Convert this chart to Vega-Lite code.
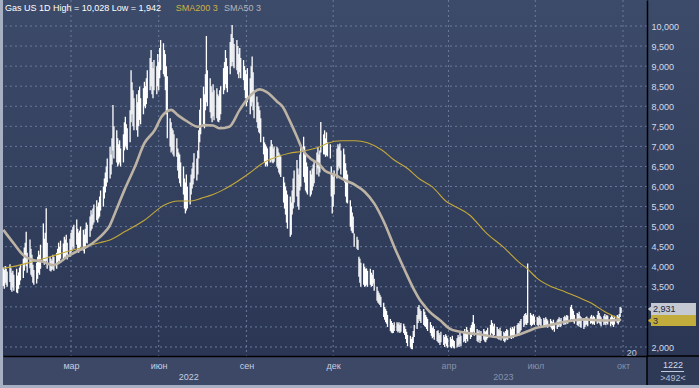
{
"$schema":"https://vega.github.io/schema/vega-lite/v6.json",
"width":644,"height":356,
"autosize":{"type":"none"},
"padding":{"left":3,"top":0,"right":52,"bottom":32},
"background":"#a7b0c2",
"config":{"view":{"stroke":null},"font":"Liberation Sans","axis":{"labelOverlap":false,"labelBound":false,"labelFlush":false,"labelSeparation":0},"axisY":{"tickCount":18}},
"datasets":{
"ohlc":[
{"d":"2021-12-20","h":3.98,"l":3.52},{"d":"2021-12-21","h":3.92,"l":3.45},{"d":"2021-12-22","h":4.02,"l":3.6},{"d":"2021-12-23","h":3.95,"l":3.55},{"d":"2021-12-24","h":3.88,"l":3.5},
{"d":"2021-12-27","h":4.06,"l":3.62},{"d":"2021-12-28","h":3.96,"l":3.42},{"d":"2021-12-29","h":3.85,"l":3.38},{"d":"2021-12-30","h":3.9,"l":3.48},{"d":"2021-12-31","h":3.8,"l":3.4},
{"d":"2022-01-03","h":3.95,"l":3.36},{"d":"2022-01-04","h":3.78,"l":3.34},{"d":"2022-01-05","h":3.86,"l":3.45},{"d":"2022-01-06","h":3.98,"l":3.55},{"d":"2022-01-07","h":4.05,"l":3.66},
{"d":"2022-01-10","h":4.2,"l":3.72},{"d":"2022-01-11","h":4.48,"l":3.9},{"d":"2022-01-12","h":4.6,"l":4.1},{"d":"2022-01-13","h":4.87,"l":4.02},{"d":"2022-01-14","h":4.35,"l":3.85},
{"d":"2022-01-17","h":4.68,"l":3.96},{"d":"2022-01-18","h":4.45,"l":3.8},{"d":"2022-01-19","h":4.3,"l":3.75},{"d":"2022-01-20","h":4.05,"l":3.6},{"d":"2022-01-21","h":3.92,"l":3.55},
{"d":"2022-01-24","h":4.1,"l":3.58},{"d":"2022-01-25","h":4.25,"l":3.7},{"d":"2022-01-26","h":4.4,"l":3.85},{"d":"2022-01-27","h":4.3,"l":3.8},{"d":"2022-01-28","h":4.55,"l":3.95},
{"d":"2022-01-31","h":5.08,"l":4.1},{"d":"2022-02-01","h":4.7,"l":4.05},{"d":"2022-02-02","h":4.85,"l":4.1},{"d":"2022-02-03","h":5.46,"l":4.15},{"d":"2022-02-04","h":4.6,"l":3.95},
{"d":"2022-02-07","h":4.25,"l":3.9},{"d":"2022-02-08","h":4.2,"l":3.88},{"d":"2022-02-09","h":4.15,"l":3.92},{"d":"2022-02-10","h":4.3,"l":3.95},{"d":"2022-02-11","h":4.25,"l":3.9},
{"d":"2022-02-14","h":4.35,"l":3.95},{"d":"2022-02-15","h":4.45,"l":4.08},{"d":"2022-02-16","h":4.6,"l":4.15},{"d":"2022-02-17","h":4.5,"l":4.1},{"d":"2022-02-18","h":4.65,"l":4.2},
{"d":"2022-02-21","h":4.58,"l":4.15},{"d":"2022-02-22","h":4.75,"l":4.25},{"d":"2022-02-23","h":4.68,"l":4.2},{"d":"2022-02-24","h":4.8,"l":4.3},{"d":"2022-02-25","h":4.6,"l":4.18},
{"d":"2022-02-28","h":4.7,"l":4.25},{"d":"2022-03-01","h":4.85,"l":4.35},{"d":"2022-03-02","h":4.92,"l":4.4},{"d":"2022-03-03","h":5.0,"l":4.5},{"d":"2022-03-04","h":5.05,"l":4.45},
{"d":"2022-03-07","h":5.18,"l":4.55},{"d":"2022-03-08","h":4.95,"l":4.4},{"d":"2022-03-09","h":4.85,"l":4.35},{"d":"2022-03-10","h":4.9,"l":4.45},{"d":"2022-03-11","h":5.0,"l":4.5},
{"d":"2022-03-14","h":4.92,"l":4.4},{"d":"2022-03-15","h":4.8,"l":4.33},{"d":"2022-03-16","h":4.95,"l":4.45},{"d":"2022-03-17","h":5.1,"l":4.6},{"d":"2022-03-18","h":5.05,"l":4.58},
{"d":"2022-03-21","h":5.25,"l":4.75},{"d":"2022-03-22","h":5.41,"l":4.9},{"d":"2022-03-23","h":5.3,"l":4.95},{"d":"2022-03-24","h":5.45,"l":5.05},{"d":"2022-03-25","h":5.55,"l":5.1},
{"d":"2022-03-28","h":5.66,"l":5.16},{"d":"2022-03-29","h":5.5,"l":5.1},{"d":"2022-03-30","h":5.6,"l":5.2},{"d":"2022-03-31","h":5.75,"l":5.25},{"d":"2022-04-01","h":5.9,"l":5.4},
{"d":"2022-04-04","h":6.0,"l":5.5},{"d":"2022-04-05","h":6.2,"l":5.7},{"d":"2022-04-06","h":6.35,"l":5.85},{"d":"2022-04-07","h":6.5,"l":6.0},{"d":"2022-04-08","h":6.7,"l":6.1},
{"d":"2022-04-11","h":6.99,"l":6.2},{"d":"2022-04-12","h":6.8,"l":6.3},{"d":"2022-04-13","h":7.2,"l":6.55},{"d":"2022-04-14","h":8.03,"l":6.9},{"d":"2022-04-15","h":7.5,"l":6.7},
{"d":"2022-04-18","h":7.4,"l":6.6},{"d":"2022-04-19","h":7.2,"l":6.5},{"d":"2022-04-20","h":7.05,"l":6.55},{"d":"2022-04-21","h":7.15,"l":6.6},{"d":"2022-04-22","h":6.95,"l":6.5},
{"d":"2022-04-25","h":7.3,"l":6.6},{"d":"2022-04-26","h":7.6,"l":6.9},{"d":"2022-04-27","h":7.74,"l":7.0},{"d":"2022-04-28","h":7.55,"l":6.95},{"d":"2022-04-29","h":7.45,"l":6.91},
{"d":"2022-05-02","h":7.9,"l":7.1},{"d":"2022-05-03","h":8.9,"l":7.6},{"d":"2022-05-04","h":8.6,"l":7.8},{"d":"2022-05-05","h":8.4,"l":7.5},{"d":"2022-05-06","h":8.2,"l":7.4},
{"d":"2022-05-09","h":8.3,"l":7.4},{"d":"2022-05-10","h":8.1,"l":7.24},{"d":"2022-05-11","h":8.4,"l":7.5},{"d":"2022-05-12","h":8.49,"l":7.66},{"d":"2022-05-13","h":8.2,"l":7.55},
{"d":"2022-05-16","h":8.45,"l":7.8},{"d":"2022-05-17","h":8.61,"l":8.0},{"d":"2022-05-18","h":8.5,"l":7.95},{"d":"2022-05-19","h":8.7,"l":8.05},{"d":"2022-05-20","h":8.9,"l":8.2},
{"d":"2022-05-23","h":9.2,"l":8.4},{"d":"2022-05-24","h":9.4,"l":8.5},{"d":"2022-05-25","h":9.1,"l":8.3},{"d":"2022-05-26","h":8.95,"l":8.2},{"d":"2022-05-27","h":9.15,"l":8.4},
{"d":"2022-05-30","h":9.0,"l":8.3},{"d":"2022-05-31","h":9.3,"l":8.5},{"d":"2022-06-01","h":9.1,"l":8.4},{"d":"2022-06-02","h":9.45,"l":8.7},{"d":"2022-06-03","h":9.65,"l":8.9},
{"d":"2022-06-06","h":9.57,"l":8.8},{"d":"2022-06-07","h":9.4,"l":8.74},{"d":"2022-06-08","h":9.3,"l":8.4},{"d":"2022-06-09","h":9.0,"l":7.8},{"d":"2022-06-10","h":8.75,"l":7.2},
{"d":"2022-06-13","h":7.7,"l":6.99},{"d":"2022-06-14","h":7.6,"l":6.85},{"d":"2022-06-15","h":7.45,"l":6.9},{"d":"2022-06-16","h":7.4,"l":6.8},{"d":"2022-06-17","h":7.3,"l":6.75},
{"d":"2022-06-20","h":7.2,"l":6.74},{"d":"2022-06-21","h":6.95,"l":6.4},{"d":"2022-06-22","h":6.85,"l":6.2},{"d":"2022-06-23","h":6.8,"l":6.08},{"d":"2022-06-24","h":6.6,"l":6.0},
{"d":"2022-06-27","h":6.5,"l":5.8},{"d":"2022-06-28","h":6.2,"l":5.45},{"d":"2022-06-29","h":6.1,"l":5.33},{"d":"2022-06-30","h":6.3,"l":5.4},{"d":"2022-07-01","h":6.0,"l":5.45},
{"d":"2022-07-04","h":6.1,"l":5.55},{"d":"2022-07-05","h":6.3,"l":5.8},{"d":"2022-07-06","h":6.45,"l":5.95},{"d":"2022-07-07","h":6.6,"l":6.05},{"d":"2022-07-08","h":6.83,"l":6.2},
{"d":"2022-07-11","h":6.7,"l":6.15},{"d":"2022-07-12","h":6.9,"l":6.3},{"d":"2022-07-13","h":7.4,"l":6.7},{"d":"2022-07-14","h":7.91,"l":7.1},{"d":"2022-07-15","h":8.2,"l":7.3},
{"d":"2022-07-18","h":8.49,"l":7.5},{"d":"2022-07-19","h":8.3,"l":7.45},{"d":"2022-07-20","h":8.8,"l":7.9},{"d":"2022-07-21","h":9.75,"l":8.1},{"d":"2022-07-22","h":8.9,"l":8.0},
{"d":"2022-07-25","h":8.7,"l":7.85},{"d":"2022-07-26","h":8.5,"l":7.7},{"d":"2022-07-27","h":8.35,"l":7.6},{"d":"2022-07-28","h":8.55,"l":7.75},{"d":"2022-07-29","h":8.4,"l":7.65},
{"d":"2022-08-01","h":8.45,"l":7.7},{"d":"2022-08-02","h":8.3,"l":7.62},{"d":"2022-08-03","h":8.25,"l":7.6},{"d":"2022-08-04","h":8.4,"l":7.66},{"d":"2022-08-05","h":8.5,"l":7.8},
{"d":"2022-08-08","h":8.95,"l":8.3},{"d":"2022-08-09","h":9.1,"l":8.4},{"d":"2022-08-10","h":9.4,"l":8.55},{"d":"2022-08-11","h":9.2,"l":8.45},{"d":"2022-08-12","h":9.0,"l":8.35},
{"d":"2022-08-15","h":9.6,"l":8.8},{"d":"2022-08-16","h":9.8,"l":9.0},{"d":"2022-08-17","h":10.028,"l":9.1},{"d":"2022-08-18","h":9.7,"l":9.0},{"d":"2022-08-19","h":9.55,"l":8.95},
{"d":"2022-08-22","h":9.65,"l":8.9},{"d":"2022-08-23","h":9.5,"l":8.8},{"d":"2022-08-24","h":9.3,"l":8.7},{"d":"2022-08-25","h":9.45,"l":8.85},{"d":"2022-08-26","h":9.2,"l":8.7},
{"d":"2022-08-29","h":9.15,"l":8.65},{"d":"2022-08-30","h":9.0,"l":8.4},{"d":"2022-08-31","h":8.9,"l":8.2},{"d":"2022-09-01","h":8.8,"l":8.0},{"d":"2022-09-02","h":8.95,"l":8.1},
{"d":"2022-09-05","h":8.7,"l":7.8},{"d":"2022-09-06","h":9.0,"l":8.0},{"d":"2022-09-07","h":9.24,"l":8.1},{"d":"2022-09-08","h":8.85,"l":7.9},{"d":"2022-09-09","h":8.4,"l":7.7},
{"d":"2022-09-12","h":8.24,"l":7.6},{"d":"2022-09-13","h":8.1,"l":7.45},{"d":"2022-09-14","h":8.0,"l":7.35},{"d":"2022-09-15","h":7.9,"l":7.32},{"d":"2022-09-16","h":7.7,"l":7.1},
{"d":"2022-09-19","h":7.24,"l":6.8},{"d":"2022-09-20","h":7.1,"l":6.6},{"d":"2022-09-21","h":7.05,"l":6.5},{"d":"2022-09-22","h":7.0,"l":6.55},{"d":"2022-09-23","h":6.95,"l":6.5},
{"d":"2022-09-26","h":7.0,"l":6.6},{"d":"2022-09-27","h":7.16,"l":6.65},{"d":"2022-09-28","h":7.05,"l":6.6},{"d":"2022-09-29","h":6.95,"l":6.58},{"d":"2022-09-30","h":7.0,"l":6.62},
{"d":"2022-10-03","h":6.99,"l":6.5},{"d":"2022-10-04","h":6.95,"l":6.45},{"d":"2022-10-05","h":6.85,"l":6.35},{"d":"2022-10-06","h":6.8,"l":6.3},{"d":"2022-10-07","h":6.75,"l":6.24},
{"d":"2022-10-10","h":6.24,"l":5.6},{"d":"2022-10-11","h":6.1,"l":5.45},{"d":"2022-10-12","h":6.0,"l":5.3},{"d":"2022-10-13","h":5.9,"l":5.1},{"d":"2022-10-14","h":5.8,"l":4.95},
{"d":"2022-10-17","h":5.75,"l":4.75},{"d":"2022-10-18","h":5.6,"l":4.8},{"d":"2022-10-19","h":5.9,"l":5.3},{"d":"2022-10-20","h":6.2,"l":5.45},{"d":"2022-10-21","h":6.4,"l":5.6},
{"d":"2022-10-24","h":6.66,"l":5.75},{"d":"2022-10-25","h":6.45,"l":5.5},{"d":"2022-10-26","h":6.3,"l":5.42},{"d":"2022-10-27","h":6.8,"l":5.9},{"d":"2022-10-28","h":7.0,"l":6.0},
{"d":"2022-10-31","h":7.24,"l":6.24},{"d":"2022-11-01","h":7.0,"l":6.1},{"d":"2022-11-02","h":6.8,"l":5.9},{"d":"2022-11-03","h":6.6,"l":5.85},{"d":"2022-11-04","h":6.5,"l":5.8},
{"d":"2022-11-07","h":6.4,"l":5.75},{"d":"2022-11-08","h":6.3,"l":5.8},{"d":"2022-11-09","h":6.45,"l":5.9},{"d":"2022-11-10","h":6.55,"l":6.0},{"d":"2022-11-11","h":6.66,"l":6.08},
{"d":"2022-11-14","h":6.85,"l":6.3},{"d":"2022-11-15","h":6.99,"l":6.45},{"d":"2022-11-16","h":6.8,"l":6.25},{"d":"2022-11-17","h":6.9,"l":6.35},{"d":"2022-11-18","h":7.61,"l":6.85},
{"d":"2022-11-21","h":7.3,"l":6.8},{"d":"2022-11-22","h":7.4,"l":6.8},{"d":"2022-11-23","h":7.2,"l":6.74},{"d":"2022-11-24","h":7.35,"l":6.78},{"d":"2022-11-25","h":7.1,"l":6.75},
{"d":"2022-11-28","h":7.05,"l":6.7},{"d":"2022-11-29","h":6.5,"l":5.75},{"d":"2022-11-30","h":6.3,"l":5.33},{"d":"2022-12-01","h":6.24,"l":5.5},{"d":"2022-12-02","h":6.4,"l":5.8},
{"d":"2022-12-05","h":6.95,"l":6.2},{"d":"2022-12-06","h":7.05,"l":6.4},{"d":"2022-12-07","h":7.0,"l":6.5},{"d":"2022-12-08","h":7.07,"l":6.45},{"d":"2022-12-09","h":6.9,"l":6.3},
{"d":"2022-12-12","h":6.95,"l":6.16},{"d":"2022-12-13","h":6.8,"l":6.1},{"d":"2022-12-14","h":6.58,"l":5.75},{"d":"2022-12-15","h":6.4,"l":5.6},{"d":"2022-12-16","h":6.3,"l":5.58},
{"d":"2022-12-19","h":5.66,"l":5.0},{"d":"2022-12-20","h":5.5,"l":4.9},{"d":"2022-12-21","h":5.35,"l":4.85},{"d":"2022-12-22","h":5.25,"l":4.83},{"d":"2022-12-23","h":4.83,"l":4.5},
{"d":"2022-12-26","h":4.75,"l":4.45},{"d":"2022-12-27","h":4.67,"l":4.42},{"d":"2022-12-28","h":4.25,"l":3.75},{"d":"2022-12-29","h":4.2,"l":3.6},{"d":"2022-12-30","h":4.1,"l":3.5},
{"d":"2023-01-02","h":4.08,"l":3.55},{"d":"2023-01-03","h":4.0,"l":3.5},{"d":"2023-01-04","h":3.95,"l":3.52},{"d":"2023-01-05","h":3.96,"l":3.55},{"d":"2023-01-06","h":3.9,"l":3.5},
{"d":"2023-01-09","h":3.95,"l":3.55},{"d":"2023-01-10","h":3.85,"l":3.5},{"d":"2023-01-11","h":3.8,"l":3.52},{"d":"2023-01-12","h":3.92,"l":3.58},{"d":"2023-01-13","h":3.7,"l":3.4},
{"d":"2023-01-16","h":3.5,"l":3.15},{"d":"2023-01-17","h":3.4,"l":3.1},{"d":"2023-01-18","h":3.35,"l":3.08},{"d":"2023-01-19","h":3.3,"l":3.05},{"d":"2023-01-20","h":3.25,"l":3.0},
{"d":"2023-01-23","h":3.1,"l":2.75},{"d":"2023-01-24","h":3.0,"l":2.68},{"d":"2023-01-25","h":2.95,"l":2.62},{"d":"2023-01-26","h":2.9,"l":2.58},{"d":"2023-01-27","h":2.8,"l":2.5},
{"d":"2023-01-30","h":2.7,"l":2.4},{"d":"2023-01-31","h":2.65,"l":2.36},{"d":"2023-02-01","h":2.6,"l":2.34},{"d":"2023-02-02","h":2.55,"l":2.35},{"d":"2023-02-03","h":2.62,"l":2.4},
{"d":"2023-02-06","h":2.62,"l":2.4},{"d":"2023-02-07","h":2.58,"l":2.36},{"d":"2023-02-08","h":2.62,"l":2.4},{"d":"2023-02-09","h":2.55,"l":2.35},{"d":"2023-02-10","h":2.6,"l":2.38},
{"d":"2023-02-13","h":2.58,"l":2.35},{"d":"2023-02-14","h":2.52,"l":2.3},{"d":"2023-02-15","h":2.45,"l":2.2},{"d":"2023-02-16","h":2.38,"l":2.1},{"d":"2023-02-17","h":2.3,"l":2.02},
{"d":"2023-02-20","h":2.28,"l":1.99},{"d":"2023-02-21","h":2.2,"l":1.95},{"d":"2023-02-22","h":2.25,"l":1.942},{"d":"2023-02-23","h":2.4,"l":2.1},{"d":"2023-02-24","h":2.55,"l":2.25},
{"d":"2023-02-27","h":2.8,"l":2.45},{"d":"2023-02-28","h":3.0,"l":2.6},{"d":"2023-03-01","h":3.05,"l":2.7},{"d":"2023-03-02","h":2.95,"l":2.65},{"d":"2023-03-03","h":2.9,"l":2.6},
{"d":"2023-03-06","h":2.95,"l":2.55},{"d":"2023-03-07","h":2.88,"l":2.52},{"d":"2023-03-08","h":2.8,"l":2.5},{"d":"2023-03-09","h":2.75,"l":2.45},{"d":"2023-03-10","h":2.7,"l":2.4},
{"d":"2023-03-13","h":2.62,"l":2.35},{"d":"2023-03-14","h":2.55,"l":2.28},{"d":"2023-03-15","h":2.48,"l":2.22},{"d":"2023-03-16","h":2.52,"l":2.25},{"d":"2023-03-17","h":2.45,"l":2.18},
{"d":"2023-03-20","h":2.4,"l":2.15},{"d":"2023-03-21","h":2.42,"l":2.12},{"d":"2023-03-22","h":2.35,"l":2.1},{"d":"2023-03-23","h":2.3,"l":2.05},{"d":"2023-03-24","h":2.38,"l":2.12},
{"d":"2023-03-27","h":2.3,"l":2.05},{"d":"2023-03-28","h":2.25,"l":2.0},{"d":"2023-03-29","h":2.32,"l":2.08},{"d":"2023-03-30","h":2.28,"l":2.02},{"d":"2023-03-31","h":2.22,"l":1.98},
{"d":"2023-04-03","h":2.25,"l":2.0},{"d":"2023-04-04","h":2.2,"l":1.97},{"d":"2023-04-05","h":2.28,"l":2.02},{"d":"2023-04-06","h":2.18,"l":1.98},{"d":"2023-04-07","h":2.15,"l":1.96},
{"d":"2023-04-10","h":2.22,"l":1.99},{"d":"2023-04-11","h":2.3,"l":2.04},{"d":"2023-04-12","h":2.25,"l":2.0},{"d":"2023-04-13","h":2.35,"l":2.08},{"d":"2023-04-14","h":2.28,"l":2.02},
{"d":"2023-04-17","h":2.4,"l":2.12},{"d":"2023-04-18","h":2.45,"l":2.15},{"d":"2023-04-19","h":2.38,"l":2.1},{"d":"2023-04-20","h":2.5,"l":2.2},{"d":"2023-04-21","h":2.42,"l":2.14},
{"d":"2023-04-24","h":2.48,"l":2.2},{"d":"2023-04-25","h":2.55,"l":2.25},{"d":"2023-04-26","h":2.62,"l":2.3},{"d":"2023-04-27","h":2.8,"l":2.38},{"d":"2023-04-28","h":2.58,"l":2.28},
{"d":"2023-05-01","h":2.45,"l":2.15},{"d":"2023-05-02","h":2.38,"l":2.12},{"d":"2023-05-03","h":2.42,"l":2.18},{"d":"2023-05-04","h":2.35,"l":2.1},{"d":"2023-05-05","h":2.4,"l":2.15},
{"d":"2023-05-08","h":2.45,"l":2.18},{"d":"2023-05-09","h":2.4,"l":2.14},{"d":"2023-05-10","h":2.38,"l":2.12},{"d":"2023-05-11","h":2.42,"l":2.18},{"d":"2023-05-12","h":2.48,"l":2.22},
{"d":"2023-05-15","h":2.55,"l":2.28},{"d":"2023-05-16","h":2.67,"l":2.35},{"d":"2023-05-17","h":2.6,"l":2.32},{"d":"2023-05-18","h":2.52,"l":2.26},{"d":"2023-05-19","h":2.58,"l":2.3},
{"d":"2023-05-22","h":2.5,"l":2.24},{"d":"2023-05-23","h":2.45,"l":2.2},{"d":"2023-05-24","h":2.42,"l":2.18},{"d":"2023-05-25","h":2.48,"l":2.22},{"d":"2023-05-26","h":2.4,"l":2.16},
{"d":"2023-05-29","h":2.38,"l":2.15},{"d":"2023-05-30","h":2.35,"l":2.12},{"d":"2023-05-31","h":2.4,"l":2.16},{"d":"2023-06-01","h":2.45,"l":2.2},{"d":"2023-06-02","h":2.42,"l":2.18},
{"d":"2023-06-05","h":2.48,"l":2.22},{"d":"2023-06-06","h":2.44,"l":2.2},{"d":"2023-06-07","h":2.5,"l":2.24},{"d":"2023-06-08","h":2.46,"l":2.22},{"d":"2023-06-09","h":2.52,"l":2.26},
{"d":"2023-06-12","h":2.55,"l":2.28},{"d":"2023-06-13","h":2.6,"l":2.34},{"d":"2023-06-14","h":2.58,"l":2.32},{"d":"2023-06-15","h":2.65,"l":2.38},{"d":"2023-06-16","h":2.7,"l":2.42},
{"d":"2023-06-19","h":2.78,"l":2.5},{"d":"2023-06-20","h":2.82,"l":2.55},{"d":"2023-06-21","h":2.85,"l":2.58},{"d":"2023-06-22","h":2.8,"l":2.55},{"d":"2023-06-23","h":4.08,"l":2.6},
{"d":"2023-06-26","h":2.85,"l":2.55},{"d":"2023-06-27","h":2.8,"l":2.52},{"d":"2023-06-28","h":2.78,"l":2.55},{"d":"2023-06-29","h":2.82,"l":2.58},{"d":"2023-06-30","h":2.76,"l":2.55},
{"d":"2023-07-03","h":2.75,"l":2.55},{"d":"2023-07-04","h":2.72,"l":2.52},{"d":"2023-07-05","h":2.78,"l":2.56},{"d":"2023-07-06","h":2.74,"l":2.54},{"d":"2023-07-07","h":2.7,"l":2.5},
{"d":"2023-07-10","h":2.72,"l":2.52},{"d":"2023-07-11","h":2.68,"l":2.5},{"d":"2023-07-12","h":2.74,"l":2.55},{"d":"2023-07-13","h":2.7,"l":2.52},{"d":"2023-07-14","h":2.66,"l":2.48},
{"d":"2023-07-17","h":2.7,"l":2.5},{"d":"2023-07-18","h":2.65,"l":2.46},{"d":"2023-07-19","h":2.62,"l":2.42},{"d":"2023-07-20","h":2.68,"l":2.45},{"d":"2023-07-21","h":2.6,"l":2.38},
{"d":"2023-07-24","h":2.66,"l":2.45},{"d":"2023-07-25","h":2.7,"l":2.5},{"d":"2023-07-26","h":2.74,"l":2.54},{"d":"2023-07-27","h":2.68,"l":2.5},{"d":"2023-07-28","h":2.72,"l":2.52},
{"d":"2023-07-31","h":2.75,"l":2.55},{"d":"2023-08-01","h":2.78,"l":2.58},{"d":"2023-08-02","h":2.74,"l":2.56},{"d":"2023-08-03","h":2.8,"l":2.6},{"d":"2023-08-04","h":2.78,"l":2.58},
{"d":"2023-08-07","h":3.0,"l":2.65},{"d":"2023-08-08","h":3.05,"l":2.7},{"d":"2023-08-09","h":2.95,"l":2.68},{"d":"2023-08-10","h":2.9,"l":2.62},{"d":"2023-08-11","h":2.8,"l":2.58},
{"d":"2023-08-14","h":2.85,"l":2.55},{"d":"2023-08-15","h":2.82,"l":2.52},{"d":"2023-08-16","h":2.88,"l":2.58},{"d":"2023-08-17","h":2.78,"l":2.5},{"d":"2023-08-18","h":2.75,"l":2.48},
{"d":"2023-08-21","h":2.72,"l":2.45},{"d":"2023-08-22","h":2.7,"l":2.5},{"d":"2023-08-23","h":2.74,"l":2.54},{"d":"2023-08-24","h":2.76,"l":2.56},{"d":"2023-08-25","h":2.72,"l":2.52},
{"d":"2023-08-28","h":2.76,"l":2.58},{"d":"2023-08-29","h":2.8,"l":2.6},{"d":"2023-08-30","h":2.74,"l":2.56},{"d":"2023-08-31","h":2.78,"l":2.58},{"d":"2023-09-01","h":2.75,"l":2.55},
{"d":"2023-09-04","h":2.8,"l":2.58},{"d":"2023-09-05","h":2.9,"l":2.62},{"d":"2023-09-06","h":2.85,"l":2.6},{"d":"2023-09-07","h":2.78,"l":2.56},{"d":"2023-09-08","h":2.74,"l":2.52},
{"d":"2023-09-11","h":2.78,"l":2.55},{"d":"2023-09-12","h":2.82,"l":2.58},{"d":"2023-09-13","h":2.76,"l":2.54},{"d":"2023-09-14","h":2.8,"l":2.6},{"d":"2023-09-15","h":2.78,"l":2.56},
{"d":"2023-09-18","h":2.74,"l":2.52},{"d":"2023-09-19","h":2.8,"l":2.58},{"d":"2023-09-20","h":2.76,"l":2.55},{"d":"2023-09-21","h":2.72,"l":2.5},{"d":"2023-09-22","h":2.78,"l":2.56},
{"d":"2023-09-25","h":2.8,"l":2.6},{"d":"2023-09-26","h":2.76,"l":2.56},{"d":"2023-09-27","h":2.82,"l":2.62},{"d":"2023-09-28","h":3.0,"l":2.75},{"d":"2023-09-29","h":2.98,"l":2.85}
],
"sma50":[
{"d":"2021-12-20","v":4.92},{"d":"2021-12-31","v":4.58},{"d":"2022-01-10","v":4.29},{"d":"2022-01-20","v":4.17},{"d":"2022-01-30","v":4.13},{"d":"2022-02-10","v":4.04},{"d":"2022-02-15","v":4.08},{"d":"2022-02-25","v":4.25},{"d":"2022-03-07","v":4.38},{"d":"2022-03-18","v":4.5},{"d":"2022-03-28","v":4.67},{"d":"2022-04-05","v":4.85},{"d":"2022-04-10","v":5.0},{"d":"2022-04-16","v":5.33},{"d":"2022-04-26","v":5.91},{"d":"2022-05-07","v":6.49},{"d":"2022-05-17","v":7.08},{"d":"2022-05-28","v":7.41},{"d":"2022-06-04","v":7.74},{"d":"2022-06-09","v":7.86},{"d":"2022-06-14","v":7.91},{"d":"2022-06-21","v":7.78},{"d":"2022-07-01","v":7.62},{"d":"2022-07-12","v":7.49},{"d":"2022-07-19","v":7.53},{"d":"2022-07-28","v":7.52},{"d":"2022-08-04","v":7.45},{"d":"2022-08-14","v":7.49},{"d":"2022-08-25","v":7.91},{"d":"2022-09-04","v":8.24},{"d":"2022-09-15","v":8.42},{"d":"2022-09-22","v":8.36},{"d":"2022-10-03","v":8.12},{"d":"2022-10-09","v":7.99},{"d":"2022-10-16","v":7.66},{"d":"2022-10-24","v":7.24},{"d":"2022-10-30","v":6.91},{"d":"2022-11-07","v":6.7},{"d":"2022-11-17","v":6.54},{"d":"2022-11-22","v":6.4},{"d":"2022-12-03","v":6.29},{"d":"2022-12-13","v":6.16},{"d":"2022-12-24","v":6.04},{"d":"2023-01-03","v":5.87},{"d":"2023-01-13","v":5.58},{"d":"2023-01-24","v":5.08},{"d":"2023-02-03","v":4.5},{"d":"2023-02-14","v":3.92},{"d":"2023-02-24","v":3.42},{"d":"2023-03-02","v":3.17},{"d":"2023-03-07","v":3.02},{"d":"2023-03-12","v":2.88},{"d":"2023-03-23","v":2.67},{"d":"2023-04-02","v":2.46},{"d":"2023-04-13","v":2.38},{"d":"2023-04-23","v":2.34},{"d":"2023-05-04","v":2.32},{"d":"2023-05-14","v":2.27},{"d":"2023-05-25","v":2.24},{"d":"2023-06-04","v":2.25},{"d":"2023-06-15","v":2.32},{"d":"2023-06-25","v":2.41},{"d":"2023-06-30","v":2.46},{"d":"2023-07-11","v":2.52},{"d":"2023-07-21","v":2.57},{"d":"2023-08-01","v":2.63},{"d":"2023-08-11","v":2.67},{"d":"2023-08-22","v":2.69},{"d":"2023-09-01","v":2.67},{"d":"2023-09-12","v":2.66},{"d":"2023-09-22","v":2.67},{"d":"2023-09-29","v":2.68}
],
"sma200":[
{"d":"2021-12-20","v":3.96},{"d":"2022-01-06","v":4.04},{"d":"2022-01-20","v":4.13},{"d":"2022-02-07","v":4.25},{"d":"2022-02-25","v":4.38},{"d":"2022-03-13","v":4.48},{"d":"2022-03-31","v":4.6},{"d":"2022-04-10","v":4.66},{"d":"2022-04-26","v":4.87},{"d":"2022-05-17","v":5.16},{"d":"2022-06-07","v":5.54},{"d":"2022-06-21","v":5.64},{"d":"2022-07-05","v":5.64},{"d":"2022-07-16","v":5.71},{"d":"2022-07-28","v":5.8},{"d":"2022-08-07","v":5.91},{"d":"2022-08-22","v":6.12},{"d":"2022-09-04","v":6.33},{"d":"2022-09-18","v":6.58},{"d":"2022-10-03","v":6.74},{"d":"2022-10-16","v":6.83},{"d":"2022-10-30","v":6.88},{"d":"2022-11-17","v":6.99},{"d":"2022-11-25","v":7.08},{"d":"2022-12-10","v":7.14},{"d":"2022-12-24","v":7.14},{"d":"2023-01-06","v":7.09},{"d":"2023-01-21","v":6.91},{"d":"2023-02-03","v":6.66},{"d":"2023-02-17","v":6.45},{"d":"2023-03-02","v":6.18},{"d":"2023-03-15","v":5.99},{"d":"2023-03-30","v":5.62},{"d":"2023-04-05","v":5.54},{"d":"2023-04-23","v":5.29},{"d":"2023-05-11","v":4.83},{"d":"2023-05-28","v":4.5},{"d":"2023-06-15","v":4.09},{"d":"2023-06-23","v":3.94},{"d":"2023-07-03","v":3.71},{"d":"2023-07-18","v":3.5},{"d":"2023-08-01","v":3.38},{"d":"2023-08-14","v":3.25},{"d":"2023-08-29","v":3.09},{"d":"2023-09-12","v":2.88},{"d":"2023-09-22","v":2.76},{"d":"2023-09-29","v":2.67}
],
"hg":[{"v":2},{"v":2.5},{"v":3},{"v":3.5},{"v":4},{"v":4.5},{"v":5},{"v":5.5},{"v":6},{"v":6.5},{"v":7},{"v":7.5},{"v":8},{"v":8.5},{"v":9},{"v":9.5},{"v":10}],
"vg":[{"d":"2022-03-01"},{"d":"2022-06-01"},{"d":"2022-09-01"},{"d":"2022-12-01"},{"d":"2023-04-01"},{"d":"2023-07-01"},{"d":"2023-10-01"}],
"one":[{"k":1}]
},
"layer":[
{"data":{"name":"one"},
 "mark":{"type":"rect","color":{"gradient":"linear","x1":0,"y1":0,"x2":0,"y2":1,"stops":[{"offset":0,"color":"#3d4b6a"},{"offset":1,"color":"#2a3653"}]}},
 "encoding":{
  "x":{"datum":{"year":2021,"month":12,"date":19,"hours":16,"utc":true},"type":"temporal"},
  "x2":{"datum":{"year":2023,"month":12,"date":21,"utc":true}},
  "y":{"datum":10.648,"type":"quantitative"},
  "y2":{"datum":1.776}}},
{"data":{"name":"one"},
 "mark":{"type":"rect","color":"#3c4866"},
 "encoding":{
  "x":{"datum":{"year":2021,"month":12,"date":19,"hours":16,"utc":true},"type":"temporal"},
  "x2":{"datum":{"year":2023,"month":10,"date":26,"hours":4,"utc":true}},
  "y":{"datum":1.776,"type":"quantitative"},
  "y2":{"datum":1.053}}},
{"data":{"name":"one"},
 "mark":{"type":"rect","color":"#2d3955"},
 "encoding":{
  "x":{"datum":{"year":2023,"month":10,"date":26,"hours":4,"utc":true},"type":"temporal"},
  "x2":{"datum":{"year":2023,"month":12,"date":21,"utc":true}},
  "y":{"datum":1.776,"type":"quantitative"},
  "y2":{"datum":1.053}}},
{"data":{"name":"hg"},
 "mark":{"type":"rule","color":"#6a7a9c","strokeDash":[2,3],"strokeWidth":1},
 "encoding":{"y":{"field":"v","type":"quantitative"}}},
{"data":{"name":"vg"},
 "mark":{"type":"rule","color":"#6a7a9c","strokeDash":[2,3],"strokeWidth":1},
 "encoding":{"x":{"field":"d","type":"temporal"}}},
{"data":{"name":"ohlc"},
 "mark":{"type":"rule","color":"#ffffff","strokeWidth":1.3},
 "encoding":{
  "x":{"field":"d","type":"temporal",
   "scale":{"type":"utc","domain":[{"year":2021,"month":12,"date":19,"hours":16,"utc":true},{"year":2023,"month":10,"date":26,"hours":4,"utc":true}]},
   "axis":{"orient":"bottom","title":null,"grid":false,"ticks":false,"domain":true,"domainColor":"#000000","domainWidth":1.5,
    "values":[{"year":2022,"month":3,"date":1,"utc":true},{"year":2022,"month":6,"date":1,"utc":true},{"year":2022,"month":7,"date":2,"utc":true},{"year":2022,"month":9,"date":1,"utc":true},{"year":2022,"month":12,"date":1,"utc":true},{"year":2023,"month":4,"date":1,"utc":true},{"year":2023,"month":5,"date":28,"utc":true},{"year":2023,"month":7,"date":1,"utc":true},{"year":2023,"month":10,"date":1,"utc":true}],
    "labelExpr":"utcdate(datum.value)==1 ? ['янв','фев','мар','апр','май','июн','июл','авг','сен','окт','ноя','дек'][utcmonth(datum.value)] : ['', utcFormat(datum.value,'%Y')]",
    "labelFont":"Liberation Sans","labelFontSize":9,"labelPadding":5,"labelLineHeight":11,"labelOverlap":false,"labelFlush":false,
    "labelColor":{"condition":{"test":"utcyear(datum.value)>=2023","value":"#8592ab"},"value":"#c4cee2"},"zindex":1}},
  "y":{"field":"l","type":"quantitative",
   "scale":{"domain":[1.776,10.648],"nice":false,"zero":false},
   "axis":{"orient":"right","title":null,"grid":false,"ticks":false,"domainColor":"#000000","domainWidth":1.5,
    "values":[2,2.5,3,3.5,4,4.5,5,5.5,6,6.5,7,7.5,8,8.5,9,9.5,10],"tickCount":18,
    "labelExpr":"datum.value==3||datum.value==2.5 ? '' : replace(format(datum.value,'.3f'),'.',',')",
    "labelFont":"Liberation Sans","labelFontSize":9,"labelPadding":4,"labelColor":"#d3dbea","labelOverlap":false,"zindex":1}},
  "y2":{"field":"h"}}},
{"data":{"name":"sma200"},
 "mark":{"type":"line","color":"#c4a838","strokeWidth":1.1,"interpolate":"monotone"},
 "encoding":{"x":{"field":"d","type":"temporal"},"y":{"field":"v","type":"quantitative"}}},
{"data":{"name":"sma50"},
 "mark":{"type":"line","color":"#bdb3a5","strokeWidth":2.6,"interpolate":"monotone"},
 "encoding":{"x":{"field":"d","type":"temporal"},"y":{"field":"v","type":"quantitative"}}},
{"data":{"name":"one"},
 "mark":{"type":"rect","color":"#c5c9d1"},
 "encoding":{
  "x":{"datum":{"year":2023,"month":10,"date":30,"hours":9,"utc":true},"type":"temporal"},
  "x2":{"datum":{"year":2023,"month":12,"date":16,"hours":13,"utc":true}},
  "y":{"datum":3.097,"type":"quantitative"},
  "y2":{"datum":2.797}}},
{"data":{"name":"one"},
 "mark":{"type":"rect","color":"#c2ac3b"},
 "encoding":{
  "x":{"datum":{"year":2023,"month":10,"date":30,"hours":9,"utc":true},"type":"temporal"},
  "x2":{"datum":{"year":2023,"month":12,"date":16,"hours":13,"utc":true}},
  "y":{"datum":2.797,"type":"quantitative"},
  "y2":{"datum":2.523}}},
{"data":{"name":"one"},
 "mark":{"type":"point","shape":"triangle-left","filled":true,"size":28,"color":"#c5c9d1","opacity":1},
 "encoding":{"x":{"datum":{"year":2023,"month":10,"date":28,"hours":18,"utc":true},"type":"temporal"},"y":{"datum":2.947,"type":"quantitative"}}},
{"data":{"name":"one"},
 "mark":{"type":"point","shape":"triangle-left","filled":true,"size":28,"color":"#c2ac3b","opacity":1},
 "encoding":{"x":{"datum":{"year":2023,"month":10,"date":28,"hours":18,"utc":true},"type":"temporal"},"y":{"datum":2.66,"type":"quantitative"}}},
{"data":{"name":"one"},
 "mark":{"type":"text","text":"2,931","align":"left","baseline":"middle","color":"#1e2840","fontSize":9,"font":"Liberation Sans"},
 "encoding":{"x":{"datum":{"year":2023,"month":11,"date":1,"hours":11,"utc":true},"type":"temporal"},"y":{"datum":2.947,"type":"quantitative"}}},
{"data":{"name":"one"},
 "mark":{"type":"text","text":"3","align":"left","baseline":"middle","color":"#1e2840","fontSize":9,"font":"Liberation Sans"},
 "encoding":{"x":{"datum":{"year":2023,"month":11,"date":1,"hours":11,"utc":true},"type":"temporal"},"y":{"datum":2.66,"type":"quantitative"}}},
{"data":{"name":"one"},
 "mark":{"type":"text","text":"Gas US 1D High = 10,028 Low = 1,942","align":"left","baseline":"middle","color":"#ffffff","fontSize":9,"font":"Liberation Sans"},
 "encoding":{"x":{"datum":{"year":2021,"month":12,"date":21,"hours":18,"utc":true},"type":"temporal"},"y":{"datum":10.449,"type":"quantitative"}}},
{"data":{"name":"one"},
 "mark":{"type":"text","text":"SMA200 3","align":"left","baseline":"middle","color":"#cdb044","fontSize":9,"font":"Liberation Sans"},
 "encoding":{"x":{"datum":{"year":2022,"month":6,"date":18,"hours":20,"utc":true},"type":"temporal"},"y":{"datum":10.449,"type":"quantitative"}}},
{"data":{"name":"one"},
 "mark":{"type":"text","text":"SMA50 3","align":"left","baseline":"middle","color":"#b4b4b8","fontSize":9,"font":"Liberation Sans"},
 "encoding":{"x":{"datum":{"year":2022,"month":8,"date":8,"hours":11,"utc":true},"type":"temporal"},"y":{"datum":10.449,"type":"quantitative"}}},
{"data":{"name":"one"},
 "mark":{"type":"text","text":"20","align":"left","baseline":"middle","color":"#c4cee2","fontSize":9,"font":"Liberation Sans"},
 "encoding":{"x":{"datum":{"year":2023,"month":10,"date":4,"hours":21,"utc":true},"type":"temporal"},"y":{"datum":1.85,"type":"quantitative"}}},
{"data":{"name":"one"},
 "mark":{"type":"text","text":"1222","align":"center","baseline":"middle","color":"#d3dbea","fontSize":9,"font":"Liberation Sans"},
 "encoding":{"x":{"datum":{"year":2023,"month":11,"date":22,"hours":11,"utc":true},"type":"temporal"},"y":{"datum":1.551,"type":"quantitative"}}},
{"data":{"name":"one"},
 "mark":{"type":"rule","color":"#c4cee2","strokeWidth":1},
 "encoding":{"x":{"datum":{"year":2023,"month":11,"date":9,"hours":21,"utc":true},"type":"temporal"},"x2":{"datum":{"year":2023,"month":12,"date":4,"utc":true}},"y":{"datum":1.389,"type":"quantitative"}}},
{"data":{"name":"one"},
 "mark":{"type":"text","text":">492<","align":"center","baseline":"middle","color":"#b4bfd2","fontSize":9,"font":"Liberation Sans"},
 "encoding":{"x":{"datum":{"year":2023,"month":11,"date":22,"hours":11,"utc":true},"type":"temporal"},"y":{"datum":1.22,"type":"quantitative"}}},
{"data":{"name":"one"},
 "mark":{"type":"rule","color":"#000000","strokeWidth":1.5},
 "encoding":{"x":{"datum":{"year":2023,"month":10,"date":26,"hours":4,"utc":true},"type":"temporal"},"y":{"datum":1.776,"type":"quantitative"},"y2":{"datum":1.053}}},
{"data":{"name":"one"},
 "mark":{"type":"rule","color":"#000000","strokeWidth":1.5},
 "encoding":{"x":{"datum":{"year":2023,"month":10,"date":26,"hours":4,"utc":true},"type":"temporal"},"x2":{"datum":{"year":2023,"month":12,"date":21,"utc":true}},"y":{"datum":1.776,"type":"quantitative"}}}
]
}
